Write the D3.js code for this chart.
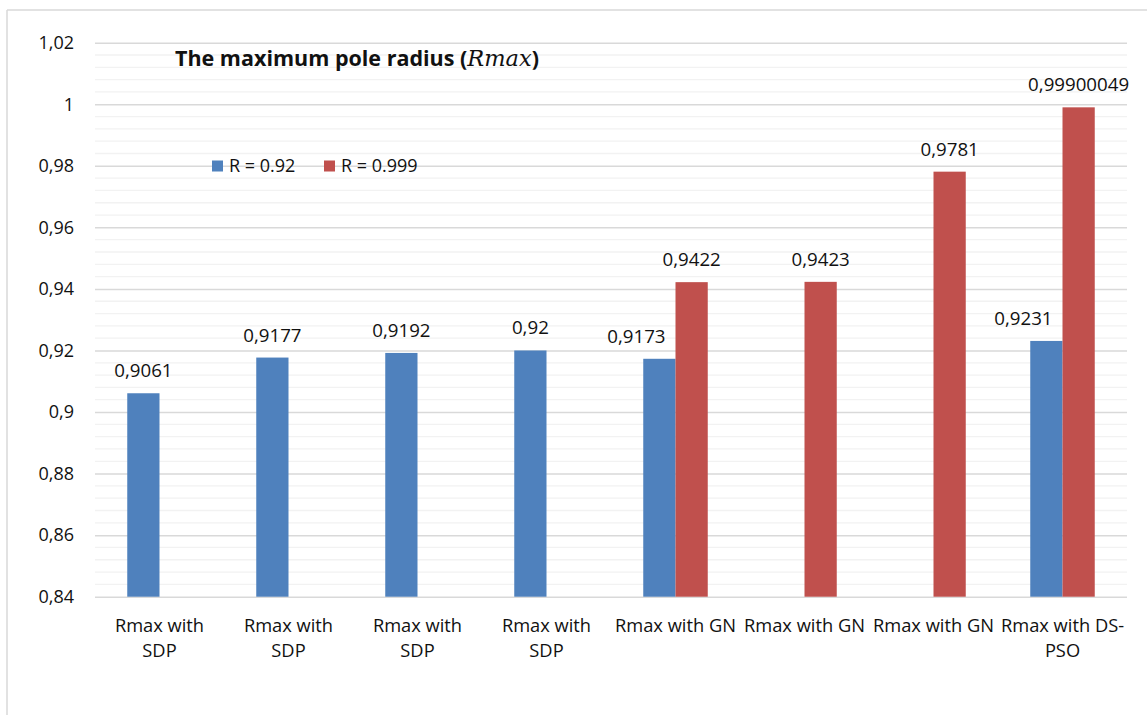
<!DOCTYPE html>
<html>
<head>
<meta charset="utf-8">
<script src="https://cdn.jsdelivr.net/npm/d3@7"></script>
<style>
  html, body { margin: 0; padding: 0; background: #ffffff; }
  svg { display: block; }
  text { font-family: "Open Sans", "Noto Sans", sans-serif; fill: #111111; }
</style>
</head>
<body>
<svg id="chart" width="1147" height="715"></svg>
<script>
// Category labels (explicit line breaks) and the two series
const categories = [
  "Rmax with\nSDP", "Rmax with\nSDP", "Rmax with\nSDP", "Rmax with\nSDP",
  "Rmax with GN", "Rmax with GN", "Rmax with GN", "Rmax with DS-\nPSO"
];
const seriesNames = ["R = 0.92", "R = 0.999"];
const seriesR092  = [0.9061, 0.9177, 0.9192, 0.92, 0.9173, null, null, 0.9231];
const seriesR0999 = [null, null, null, null, 0.9422, 0.9423, 0.9781, 0.99900049];
const yTickValues = [0.84, 0.86, 0.88, 0.9, 0.92, 0.94, 0.96, 0.98, 1, 1.02];
const yTickLabels = ["0,84", "0,86", "0,88", "0,9", "0,92", "0,94", "0,96", "0,98", "1", "1,02"];
const seriesColors = ["#4f81bd", "#c0504d"];

const svg = d3.select("#chart");
const W = 1147, H = 715;
const plot = { left: 95, right: 1127, top: 42.7, bottom: 596.7 };

// outer chart frame (top and left edges visible)
svg.append("line").attr("x1", 7).attr("y1", 10).attr("x2", W).attr("y2", 10)
  .attr("stroke", "#d9d9d9").attr("stroke-width", 1.5);
svg.append("line").attr("x1", 7).attr("y1", 10).attr("x2", 7).attr("y2", H)
  .attr("stroke", "#d9d9d9").attr("stroke-width", 1.5);

const y = d3.scaleLinear().domain([0.84, 1.02]).range([plot.bottom, plot.top]);
const keys = [0, 1];
const x0 = d3.scaleBand().domain(d3.range(categories.length))
  .range([plot.left, plot.right]).paddingInner(0).paddingOuter(0);
const x1 = d3.scaleBand().domain(keys).range([0, x0.bandwidth()])
  .paddingInner(0).paddingOuter(1);

// minor gridlines every 0.004
const minor = d3.range(0, 46).map(i => +(0.84 + i * 0.004).toFixed(4))
  .filter((v, i) => i % 5 !== 0);
svg.append("g").selectAll("line").data(minor).join("line")
  .attr("x1", plot.left).attr("x2", plot.right)
  .attr("y1", d => y(d)).attr("y2", d => y(d))
  .attr("stroke", "#f2f2f2").attr("stroke-width", 1.3);

// major gridlines + tick labels
const yAxis = d3.axisLeft(y).tickValues(yTickValues)
  .tickSize(-(plot.right - plot.left)).tickPadding(21)
  .tickFormat((d, i) => yTickLabels[i]);
const gy = svg.append("g").attr("transform", `translate(${plot.left},0)`).call(yAxis);
gy.select(".domain").remove();
gy.selectAll(".tick line").attr("stroke", "#d9d9d9").attr("stroke-width", 1.5);
gy.selectAll(".tick text").attr("font-size", 18)
  .style("font-family", '"Open Sans", "Noto Sans", sans-serif').attr("fill", "#111111");

// bars
const seriesData = [seriesR092, seriesR0999];
const bars = [];
seriesData.forEach((vals, s) => vals.forEach((v, i) => {
  if (v !== null) {
    const other = seriesData[1 - s][i];
    // a label that would collide with a taller neighbouring bar is pulled left
    const blocked = s === 0 && other !== null && other > v;
    bars.push({ s, i, v, blocked });
  }
}));
svg.append("g").selectAll("rect").data(bars).join("rect")
  .attr("x", d => x0(d.i) + x1(d.s))
  .attr("width", x1.bandwidth())
  .attr("y", d => y(d.v))
  .attr("height", d => y(0.84) - y(d.v))
  .attr("fill", d => seriesColors[d.s]);

// value labels
svg.append("g").selectAll("text").data(bars).join("text")
  .attr("x", d => d.blocked
    ? x0(d.i) + x1(d.s) + x1.bandwidth() - 10
    : x0(d.i) + x1(d.s) + x1.bandwidth() / 2)
  .attr("y", d => y(d.v) - 16)
  .attr("text-anchor", d => d.blocked ? "end" : "middle")
  .attr("font-size", 18.7)
  .text(d => String(d.v).replace(".", ","));

// category labels
const cat = svg.append("g").selectAll("text").data(categories).join("text")
  .attr("x", (d, i) => x0(i) + x0.bandwidth() / 2)
  .attr("y", 632)
  .attr("text-anchor", "middle")
  .attr("font-size", 18.3);
cat.selectAll("tspan").data(d => d.split("\n")).join("tspan")
  .attr("x", function () { return d3.select(this.parentNode).attr("x"); })
  .attr("dy", (d, i) => i === 0 ? 0 : 25)
  .text(d => d);

// title
const title = svg.append("text").attr("x", 175).attr("y", 66)
  .attr("font-size", 21.5).attr("font-weight", "bold");
title.append("tspan").text("The maximum pole radius (");
title.append("tspan").attr("font-style", "italic").attr("font-weight", "normal")
  .attr("font-size", 22.5)
  .style("font-family", '"DejaVu Serif", "Liberation Serif", serif').text("Rmax");
title.append("tspan").text(")");

// legend
const legend = svg.append("g");
const legendX = [212, 324];
seriesNames.forEach((name, s) => {
  legend.append("rect").attr("x", legendX[s]).attr("y", 160.5)
    .attr("width", 11).attr("height", 11).attr("fill", seriesColors[s]);
  legend.append("text").attr("x", legendX[s] + 17).attr("y", 166)
    .attr("dy", "0.35em").attr("font-size", 18).text(name);
});
</script>
</body>
</html>
